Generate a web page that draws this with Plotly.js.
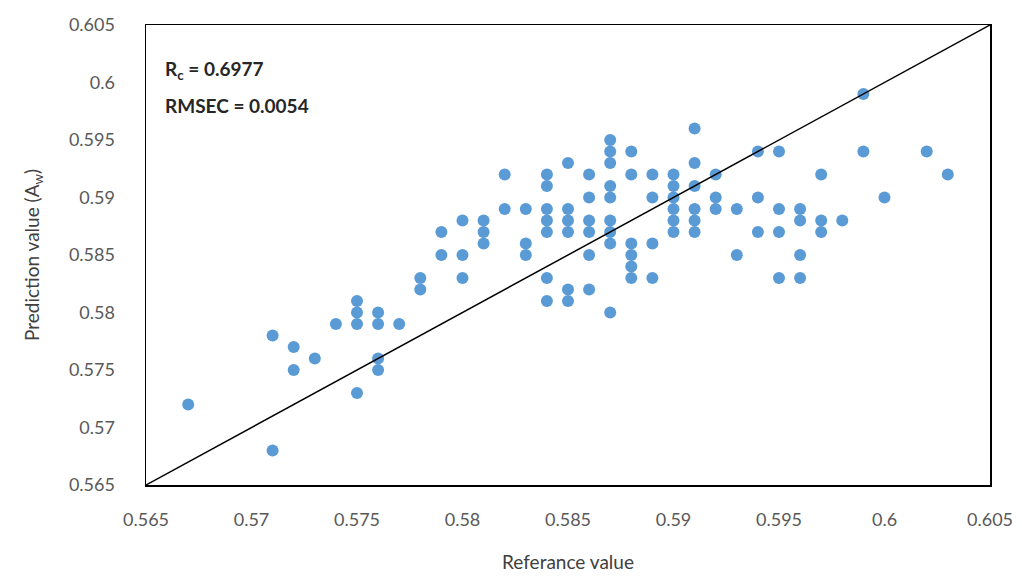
<!DOCTYPE html>
<html>
<head>
<meta charset="utf-8">
<script src="https://cdn.plot.ly/plotly-3.0.1.min.js"></script>
<style>html,body{margin:0;padding:0;background:#fff;}#chart{width:1022px;height:576px;}</style>
</head>
<body>
<div id="chart"></div>
<script>
const refX = [
 0.567,
 0.571,0.571,
 0.572,0.572,
 0.573,
 0.574,
 0.575,0.575,0.575,0.575,
 0.576,0.576,0.576,0.576,
 0.577,
 0.578,0.578,
 0.579,0.579,
 0.580,0.580,0.580,
 0.581,0.581,0.581,
 0.582,0.582,
 0.583,0.583,0.583,
 0.584,0.584,0.584,0.584,0.584,0.584,0.584,
 0.585,0.585,0.585,0.585,0.585,0.585,
 0.586,0.586,0.586,0.586,0.586,0.586,
 0.587,0.587,0.587,0.587,0.587,0.587,0.587,0.587,0.587,
 0.588,0.588,0.588,0.588,0.588,0.588,
 0.589,0.589,0.589,0.589,
 0.590,0.590,0.590,0.590,0.590,0.590,
 0.591,0.591,0.591,0.591,0.591,0.591,
 0.592,0.592,0.592,
 0.593,0.593,
 0.594,0.594,0.594,
 0.595,0.595,0.595,0.595,
 0.596,0.596,0.596,0.596,
 0.597,0.597,0.597,
 0.598,
 0.599,0.599,
 0.600,
 0.602,
 0.603
];
const predY = [
 0.572,
 0.578,0.568,
 0.577,0.575,
 0.576,
 0.579,
 0.581,0.580,0.579,0.573,
 0.580,0.579,0.576,0.575,
 0.579,
 0.583,0.582,
 0.587,0.585,
 0.588,0.585,0.583,
 0.588,0.587,0.586,
 0.592,0.589,
 0.589,0.586,0.585,
 0.592,0.591,0.589,0.588,0.587,0.583,0.581,
 0.593,0.589,0.588,0.587,0.582,0.581,
 0.592,0.590,0.588,0.587,0.585,0.582,
 0.595,0.594,0.593,0.591,0.590,0.588,0.587,0.586,0.580,
 0.594,0.592,0.586,0.585,0.584,0.583,
 0.592,0.590,0.586,0.583,
 0.592,0.591,0.590,0.589,0.588,0.587,
 0.596,0.593,0.591,0.589,0.588,0.587,
 0.592,0.590,0.589,
 0.589,0.585,
 0.594,0.590,0.587,
 0.594,0.589,0.587,0.583,
 0.589,0.588,0.585,0.583,
 0.592,0.588,0.587,
 0.588,
 0.599,0.594,
 0.590,
 0.594,
 0.592
];
const idealLine = [0.565, 0.605];
const tickVals = [0.565,0.57,0.575,0.58,0.585,0.59,0.595,0.6,0.605];
const tickText = ['0.565','0.57','0.575','0.58','0.585','0.59','0.595','0.6','0.605'];

const font = 'Lato, "Open Sans", "DejaVu Sans", sans-serif';

const data = [
 {x: refX, y: predY, mode:'markers', type:'scatter',
  marker:{color:'#5b9bd5', size:12}, showlegend:false, hoverinfo:'x+y'},
 {x: idealLine, y: idealLine, mode:'lines', type:'scatter',
  line:{color:'#000', width:1.5}, showlegend:false, hoverinfo:'skip'}
];

const axisCommon = {
 range:[0.565,0.605], tickvals:tickVals, ticktext:tickText,
 showgrid:false, zeroline:false, showline:true, linecolor:'#000', linewidth:1.5,
 mirror:true, ticks:'', tickfont:{family:font, size:18, color:'#595959'}
};

const layout = {
 width:1022, height:576,
 margin:{l:146, r:32, t:25, b:91},
 paper_bgcolor:'#fff', plot_bgcolor:'#fff',
 xaxis: Object.assign({}, axisCommon, {
   ticklabelstandoff:18,
   title:{text:'Referance value', font:{family:font, size:19, color:'#404040'}, standoff:26}
 }),
 yaxis: Object.assign({}, axisCommon, {
   ticklabelstandoff:26,
   title:{text:'Prediction value (A<sub>w</sub>)', font:{family:font, size:19, color:'#404040'}, standoff:24}
 }),
 annotations:[
  {xref:'paper', yref:'paper', x:0.02, y:0.902, xanchor:'left', yanchor:'middle', showarrow:false,
   text:'<b>R<sub>c</sub> = 0.6977</b>', font:{family:font, size:19, color:'#262626'}},
  {xref:'paper', yref:'paper', x:0.02, y:0.824, xanchor:'left', yanchor:'middle', showarrow:false,
   text:'<b>RMSEC = 0.0054</b>', font:{family:font, size:19, color:'#262626'}}
 ]
};

Plotly.newPlot('chart', data, layout, {displayModeBar:false, staticPlot:true});
</script>
</body>
</html>
